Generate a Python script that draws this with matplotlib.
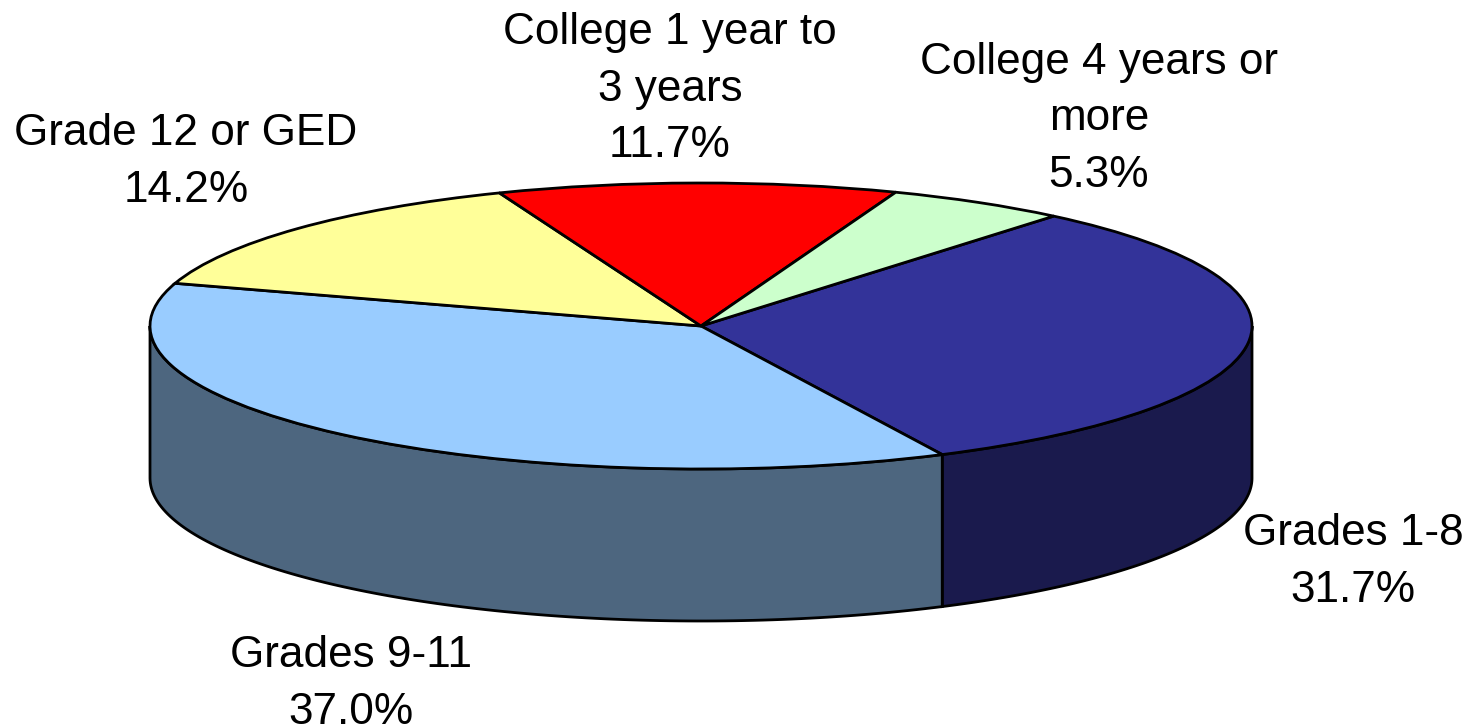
import numpy as np
import matplotlib
matplotlib.use("Agg")
import matplotlib.pyplot as plt
from matplotlib.patches import Polygon

# Education levels, clockwise from the upper right
categories = ["Grades 1-8", "Grades 9-11", "Grade 12 or GED", "College 1 year to\n3 years", "College 4 years or\nmore"]
shares = [31.7, 37.0, 14.2, 11.7, 5.3]
top_colors = ["#333399", "#99CCFF", "#FFFF99", "#FF0000", "#CCFFCC"]
side_colors = ["#1A1A4D", "#4D667F", "#80804D", "#800000", "#668066"]

# Text anchor of each label in pixels
label_x = [1353, 351, 186, 670, 1099]
label_y = [562, 684, 162, 89, 119]

plt.rcParams["font.family"] = ["Liberation Sans", "DejaVu Sans"]

W, H = 1478, 727
cx, cy = 701, 326
rx, ry = 551, 143
depth = 152
start_angle = 50.2

fig = plt.figure(figsize=(W / 100, H / 100), dpi=100)
ax = fig.add_axes([0, 0, 1, 1])

# Unit pie, squashed into an ellipse by the axis limits below
wedges, _ = ax.pie(
    shares,
    colors=top_colors,
    startangle=start_angle,
    counterclock=False,
    wedgeprops={"edgecolor": "black", "linewidth": 2, "zorder": 3},
)
ax.set_aspect("auto")
ax.set_xlim(-cx / rx, (W - cx) / rx)
ax.set_ylim(-(H - cy) / ry, cy / ry)
ax.axis("off")

# Side wall: the part of each slice's rim that faces the viewer
drop = depth / ry
edges = start_angle - np.cumsum([0] + shares) / sum(shares) * 360
for i in range(len(shares)):
    a0, a1 = edges[i], edges[i + 1]
    # front of the ellipse runs from 0 down to -180 degrees
    for shift in (0, -360, 360):
        lo = max(a1 + shift, -180)
        hi = min(a0 + shift, 0)
        if hi > lo:
            t = np.radians(np.linspace(hi, lo, 120))
            upper = np.column_stack([np.cos(t), np.sin(t)])
            lower = upper[::-1] - [0, drop]
            ax.add_patch(Polygon(np.vstack([upper, lower]), closed=True,
                                 facecolor=side_colors[i], edgecolor="black",
                                 linewidth=2, zorder=2))

# Labels, placed in pixel coordinates
for name, value, x, y in zip(categories, shares, label_x, label_y):
    fig.text(x / W, 1 - y / H, f"{name}\n{value:.1f}%", ha="center", va="center",
             fontsize=31.8, color="black", linespacing=1.49)

fig.savefig("out.png", dpi=100, facecolor="white")
